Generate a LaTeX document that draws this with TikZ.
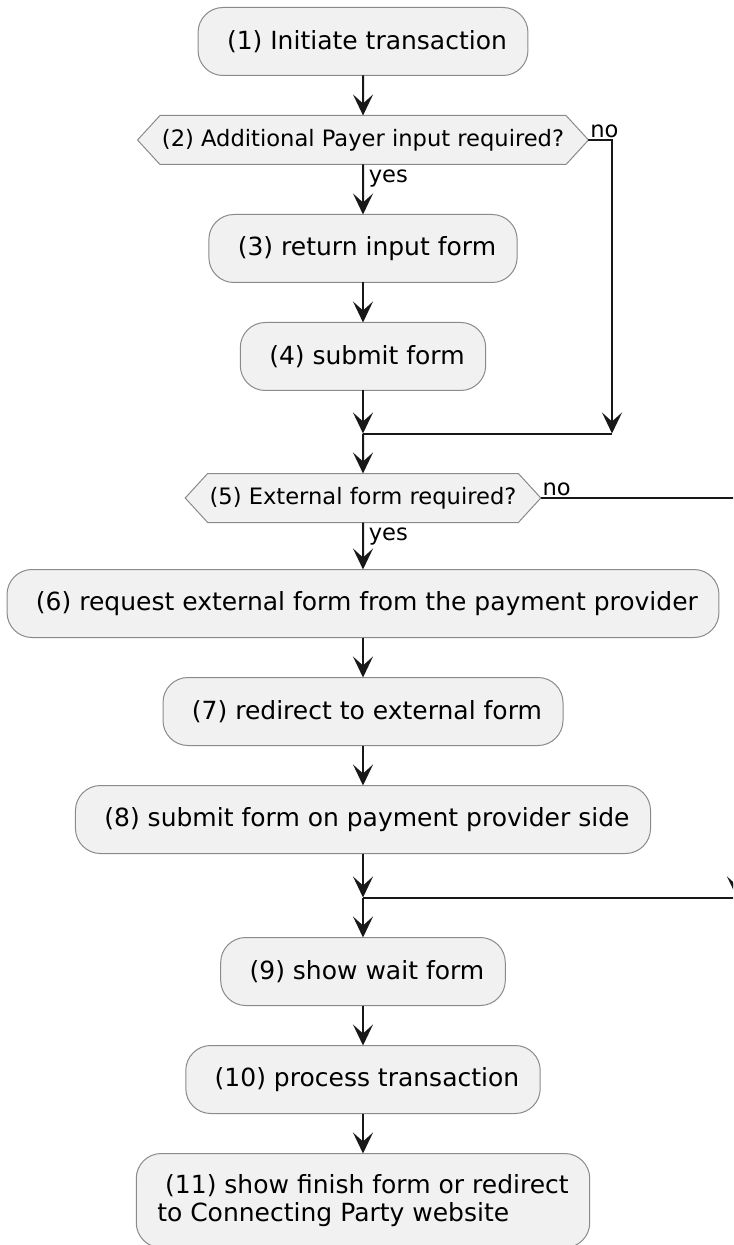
\documentclass[tikz,border=0pt]{standalone}
\usepackage{fontspec}
\setmainfont{DejaVu Sans}
\usepackage{tikz}
\usetikzlibrary{shapes.symbols, arrows.meta, positioning}
\definecolor{boxfill}{HTML}{F1F1F1}
\definecolor{boxline}{HTML}{8A8A8A}
\definecolor{flowline}{HTML}{181818}

\begin{document}
\begin{tikzpicture}[
  act/.style={rectangle, draw=boxline, fill=boxfill, line width=0.5pt, rounded corners=12.5pt,
              minimum height=34pt, inner xsep=10.5pt, inner ysep=10.5pt, outer sep=0pt,
              align=left, font=\fontsize{12.5}{14}\selectfont},
  choice/.style={signal, signal to=west and east, signal pointer angle=95,
                 draw=boxline, fill=boxfill, line width=0.5pt, minimum height=24.5pt,
                 inner xsep=1pt, inner ysep=2pt, outer sep=0pt, font=\fontsize{11.3}{13}\selectfont},
  lbl/.style={font=\fontsize{11.3}{13}\selectfont, inner sep=0.7pt},
  arr/.style={-{Stealth[length=10.5pt, width=10pt, inset=4.5pt]}, line width=1pt, flowline},
  ln/.style={line width=1pt, flowline},
  node distance=20pt
]
\path[use as bounding box, clip] (0,0) rectangle (366.5pt,-622.5pt);

\node[act] (init) at (181.5pt,-20.75pt) {\ (1) Initiate transaction};
\node[choice, below=of init] (payer) {(2) Additional Payer input required?};
\node[act, below=25pt of payer] (inputform) {\ (3) return input form};
\node[act, below=of inputform] (submit) {\ (4) submit form};
\coordinate[below=21.5pt of submit] (join1);
\coordinate (skip1) at ([xshift=124.5pt]join1);
\node[choice, below=of join1] (external) {(5) External form required?};
\node[act, below=23.5pt of external] (request) {\ (6) request external form from the payment provider};
\node[act, below=of request] (redirect) {\ (7) redirect to external form};
\node[act, below=of redirect] (provider) {\ (8) submit form on payment provider side};
\coordinate[below=22pt of provider] (join2);
\coordinate (skip2) at ([xshift=187pt]join2);
\node[act, below=of join2] (wait) {\ (9) show wait form};
\node[act, below=of wait] (process) {\ (10) process transaction};
\node[act, below=of process] (finish) {\ (11) show finish form or redirect\\to Connecting Party website};

% main flow
\draw[arr] (init) -- (payer);
\draw[arr] (payer) -- (inputform);
\draw[arr] (inputform) -- (submit);
\draw[arr] (submit) -- (join1);
\draw[arr] (join1) -- (external);
\draw[arr] (external) -- (request);
\draw[arr] (request) -- (redirect);
\draw[arr] (redirect) -- (provider);
\draw[arr] (provider) -- (join2);
\draw[arr] (join2) -- (wait);
\draw[arr] (wait) -- (process);
\draw[arr] (process) -- (finish);

% branches
\draw[arr] (payer.east) -| (skip1);
\draw[ln] (join1) -- (skip1);
\draw[arr] (external.east) -| (skip2);
\draw[ln] (join2) -- (skip2);

\node[lbl, anchor=south west] (payerno) at (payer.east) {no};
\node[lbl, anchor=north west, xshift=2pt, yshift=-2pt] (payeryes) at (payer.south) {yes};
\node[lbl, anchor=south west] (externalno) at (external.east) {no};
\node[lbl, anchor=north west, xshift=2pt, yshift=-2pt] (externalyes) at (external.south) {yes};
\end{tikzpicture}
\end{document}
